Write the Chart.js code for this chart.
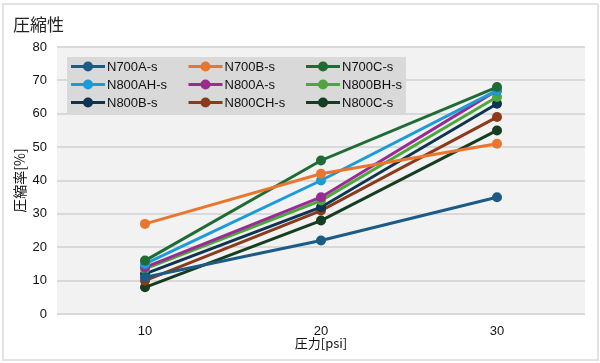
<!DOCTYPE html>
<html>
<head>
<meta charset="utf-8">
<script src="https://cdn.jsdelivr.net/npm/chart.js@4"></script>
<style>
  body { margin: 0; background: #fff; }
  #frame { position: absolute; left: 2px; top: 3px; width: 593px; height: 354px; border: 2px solid #e2e2e2; }
  #wrap { position: absolute; left: 0; top: 0; width: 600px; height: 363px; }
</style>
</head>
<body>
<div id="frame"></div>
<div id="wrap"><canvas id="chart" width="600" height="363"></canvas></div>
<script>
var pressure = ['10', '20', '30'];
var seriesNames = ['N700A-s', 'N700B-s', 'N700C-s', 'N800AH-s', 'N800A-s', 'N800BH-s', 'N800B-s', 'N800CH-s', 'N800C-s'];
var n700a = [11, 22, 35];
var n700b = [27, 42, 51];
var n700c = [16, 46, 68];
var n800ah = [15, 40, 67];
var n800a = [14, 35, 67];
var n800bh = [13.5, 34, 65];
var n800b = [12, 32, 63];
var n800ch = [10, 31, 59];
var n800c = [8, 28, 55];
var yTicks = [0, 10, 20, 30, 40, 50, 60, 70, 80];

var seriesValues = [n700a, n700b, n700c, n800ah, n800a, n800bh, n800b, n800ch, n800c];
var colors = ['#1d5b87', '#e8762f', '#1f6b35', '#1b9bd7', '#992b94', '#4ba83a', '#0f3452', '#8b3a1b', '#163d1f'];
var font = '"Liberation Sans", Arial, "Noto Sans CJK JP", sans-serif';

var datasets = [];
for (var i = 0; i < seriesNames.length; i++) {
  datasets.push({
    label: seriesNames[i],
    data: seriesValues[i],
    borderColor: colors[i],
    backgroundColor: colors[i],
    borderWidth: 3,
    pointRadius: 5,
    pointHoverRadius: 5,
    pointBorderWidth: 0,
    tension: 0
  });
}

// plot background, title, and the boxed 3-column legend
var decor = {
  id: 'decor',
  beforeDraw: function(chart) {
    var ctx = chart.ctx;
    var a = chart.chartArea;
    ctx.save();
    ctx.fillStyle = '#f2f2f2';
    ctx.fillRect(a.left, a.top, a.right - a.left, a.bottom - a.top);
    ctx.restore();
  },
  afterDraw: function(chart) {
    var ctx = chart.ctx;
    ctx.save();
    ctx.fillStyle = '#222';
    ctx.font = '17px "Noto Sans CJK JP", sans-serif';
    ctx.textBaseline = 'middle';
    ctx.fillText('圧縮性', 13, 25);

    ctx.fillStyle = '#d9d9d9';
    ctx.fillRect(67, 57, 339, 56);
    ctx.font = '13px ' + font;
    ctx.textBaseline = 'middle';
    for (var i = 0; i < chart.data.datasets.length; i++) {
      var ds = chart.data.datasets[i];
      var col = i % 3, row = Math.floor(i / 3);
      var x = 71 + col * 117.5;
      var y = 66.5 + row * 18;
      ctx.strokeStyle = ds.borderColor;
      ctx.lineWidth = 3;
      ctx.beginPath();
      ctx.moveTo(x, y);
      ctx.lineTo(x + 34, y);
      ctx.stroke();
      ctx.fillStyle = ds.borderColor;
      ctx.beginPath();
      ctx.arc(x + 17, y, 5, 0, Math.PI * 2);
      ctx.fill();
      ctx.fillStyle = '#111';
      ctx.fillText(ds.label, x + 36, y + 1);
    }
    ctx.restore();
  }
};

new Chart(document.getElementById('chart'), {
  type: 'line',
  data: { labels: pressure, datasets: datasets },
  options: {
    responsive: false,
    animation: false,
    layout: { padding: { top: 47, left: 0, right: 15, bottom: 12 } },
    plugins: {
      legend: { display: false },
      tooltip: { enabled: false }
    },
    scales: {
      x: {
        offset: true,
        grid: { display: false, drawTicks: false },
        border: { display: false },
        ticks: { color: '#111', font: { family: font, size: 13 }, padding: 10 },
        title: { display: true, text: '圧力[psi]', color: '#111', font: { family: '"Noto Sans CJK JP", sans-serif', size: 13 }, padding: { top: 0, bottom: 0 } },
        afterFit: function(scale) { scale.height = 37; }
      },
      y: {
        min: 0,
        max: 80,
        afterBuildTicks: function(scale) {
          scale.ticks = yTicks.map(function(v) { return { value: v }; });
        },
        grid: { color: '#d9d9d9', lineWidth: 2, drawTicks: false },
        border: { display: false },
        ticks: { color: '#111', font: { family: font, size: 13 }, padding: 10 },
        title: { display: true, text: '圧縮率[%]', color: '#111', font: { family: '"Noto Sans CJK JP", sans-serif', size: 14 }, padding: { top: 11, bottom: 0 } },
        afterFit: function(scale) { scale.width = 57; }
      }
    }
  },
  plugins: [decor]
});
</script>
</body>
</html>
